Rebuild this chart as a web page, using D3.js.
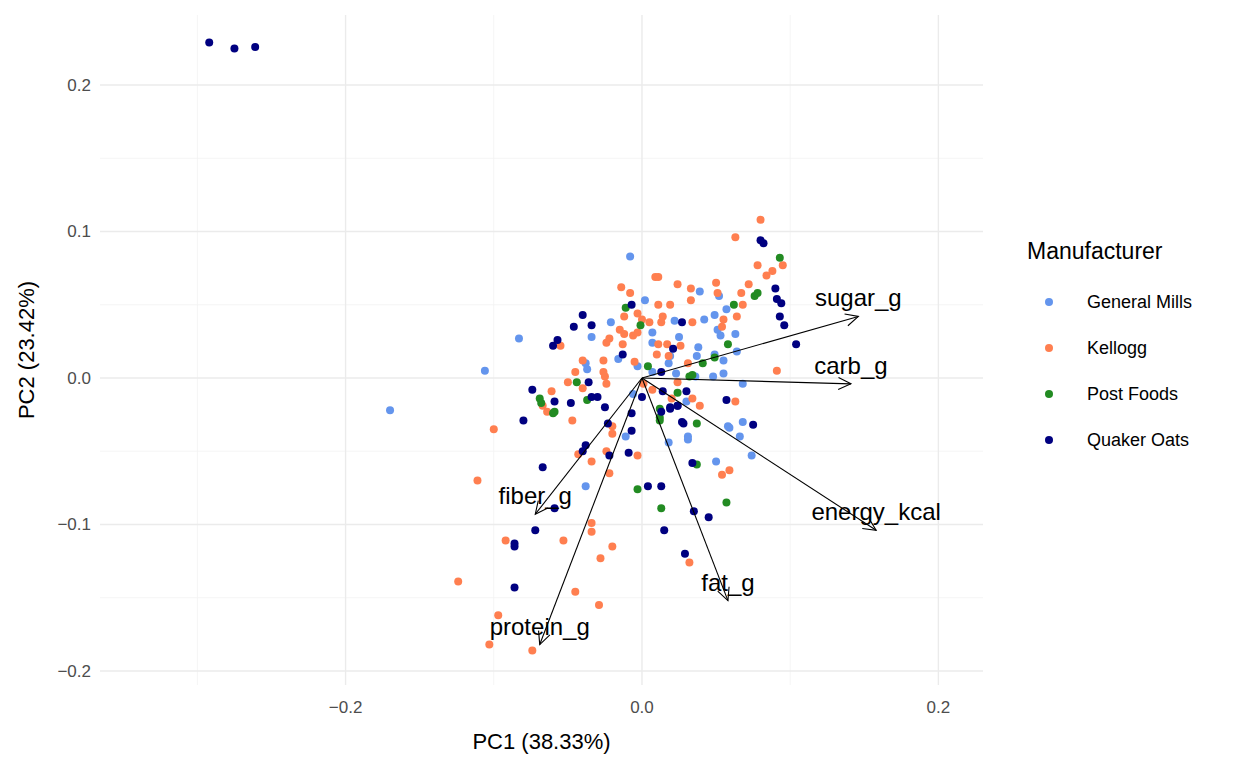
<!DOCTYPE html>
<html><head><meta charset="utf-8">
<script src="https://cdn.jsdelivr.net/npm/d3@7"></script>
<style>body{margin:0;background:#fff}svg{font-family:Arial,"Liberation Sans",sans-serif}</style>
</head><body>
<svg id="chart" width="1248" height="768"></svg>
<script>
// PC scores per manufacturer, [PC1, PC2]
const generalMills = [[-0.170,-0.022],[-0.106,0.005],[-0.083,0.027],[-0.008,0.083],[0.002,0.053],[0.039,0.059],[0.052,0.056],
  [-0.021,0.038],[-0.034,0.028],[0.007,0.031],[0.007,0.024],[0.025,0.028],[0.022,0.039],[0.042,0.040],[0.049,0.043],[0.057,0.047],
  [0.051,0.033],[0.063,0.030],[0.053,0.029],[0.038,0.021],[0.037,0.015],[0.049,0.016],[-0.016,0.013],[-0.038,0.010],[-0.037,0.006],
  [-0.003,0.008],[0.019,0.015],[0.018,0.010],[0.007,0.004],[0.023,0.003],[0.048,0.001],[0.055,0.003],[0.064,0.018],[0.068,-0.004],
  [0.055,0.012],[0.036,0.001],[0.030,-0.016],[-0.006,-0.011],[0.068,-0.030],[0.058,-0.033],[0.066,-0.040],[0.031,-0.040],
  [-0.011,-0.040],[0.018,-0.044],[0.031,-0.042],[0.059,-0.034],[0.074,-0.053],[0.050,-0.057],[-0.038,-0.074]];
const kellogg = [[0.080,0.108],[0.063,0.096],[0.078,0.077],[0.088,0.073],[0.084,0.070],[0.095,0.077],[0.009,0.069],[0.011,0.069],
  [-0.014,0.062],[-0.008,0.058],[0.024,0.064],[0.033,0.061],[0.050,0.065],[0.051,0.058],[0.033,0.053],[0.011,0.050],[0.019,0.050],
  [0.072,0.064],[0.067,0.058],[0.068,0.050],[0.064,0.042],[0.055,0.040],[0.054,0.035],[0.034,0.038],[0.014,0.042],[0.013,0.038],
  [0.005,0.038],[-0.003,0.044],[0.000,0.040],[-0.012,0.042],[-0.015,0.033],[-0.012,0.030],[-0.006,0.029],[-0.003,0.031],
  [-0.022,0.027],[-0.024,0.024],[-0.013,0.023],[0.011,0.023],[0.017,0.023],[0.026,0.022],[0.010,0.016],[0.018,0.015],
  [-0.026,0.012],[-0.040,0.012],[-0.055,0.022],[-0.005,0.011],[0.031,0.010],[0.091,0.005],[-0.045,0.004],[-0.026,0.004],
  [-0.025,0.001],[-0.024,-0.004],[-0.050,-0.003],[-0.040,-0.007],[-0.061,-0.009],[-0.067,-0.019],[-0.064,-0.023],[-0.047,-0.029],
  [-0.100,-0.035],[0.001,-0.004],[0.007,-0.008],[0.024,-0.003],[0.020,-0.014],[0.034,-0.014],[0.039,-0.019],[0.063,-0.016],
  [-0.020,-0.033],[-0.020,-0.038],[-0.024,-0.050],[-0.043,-0.052],[-0.034,-0.057],[-0.003,-0.053],[-0.022,-0.065],[-0.111,-0.070],
  [0.054,-0.066],[0.059,-0.063],[-0.034,-0.099],[-0.034,-0.105],[-0.092,-0.111],[-0.053,-0.111],[-0.020,-0.115],[-0.028,-0.123],
  [0.032,-0.126],[-0.124,-0.139],[-0.045,-0.146],[-0.029,-0.155],[-0.097,-0.162],[-0.103,-0.182],[-0.074,-0.186]];
const postFoods = [[0.093,0.082],[0.076,0.056],[0.078,0.058],[0.062,0.050],[-0.011,0.048],[-0.001,0.036],[0.058,0.023],[0.041,0.010],
  [0.049,0.014],[0.004,0.008],[0.032,0.001],[0.034,0.002],[-0.044,-0.003],[-0.069,-0.014],[-0.068,-0.017],[-0.059,-0.023],
  [-0.037,-0.015],[0.024,-0.010],[0.012,-0.021],[0.012,-0.027],[0.037,-0.031],[-0.060,-0.024],[0.012,-0.029],[0.037,-0.059],
  [-0.003,-0.076],[0.013,-0.089],[0.057,-0.085]];
const quakerOats = [[-0.292,0.229],[-0.275,0.225],[-0.261,0.226],[0.080,0.094],[0.082,0.092],[0.090,0.061],[0.091,0.054],[0.093,0.042],
  [0.096,0.036],[0.104,0.023],[0.094,0.051],[-0.007,0.050],[-0.040,0.043],[-0.046,0.035],[-0.034,0.036],[-0.057,0.026],[-0.060,0.022],
  [0.027,0.038],[-0.013,0.016],[0.021,0.020],[-0.074,-0.008],[-0.036,-0.003],[-0.059,-0.016],[-0.048,-0.017],[-0.034,-0.013],
  [-0.030,-0.013],[-0.025,-0.020],[-0.080,-0.029],[0.013,0.004],[0.014,-0.009],[0.030,-0.009],[0.019,-0.020],[0.024,-0.019],
  [0.027,-0.030],[0.000,-0.013],[0.057,-0.015],[0.075,-0.032],[-0.023,-0.031],[-0.007,-0.024],[-0.007,-0.036],[-0.038,-0.046],
  [-0.040,-0.050],[-0.022,-0.053],[-0.009,-0.051],[-0.067,-0.061],[0.004,-0.074],[0.013,-0.074],[-0.059,-0.089],[-0.072,-0.104],
  [-0.086,-0.113],[-0.086,-0.115],[-0.086,-0.143],[0.015,-0.104],[0.035,-0.091],[0.045,-0.095],[0.029,-0.120],[0.028,-0.031],
  [0.034,-0.058],[0.013,-0.023],[0.019,-0.021],[0.024,-0.019]];

const manufacturers = ["General Mills", "Kellogg", "Post Foods", "Quaker Oats"];
const colors = ["#6495ED", "#FF7F50", "#228B22", "#000080"];
const loadingNames = ["sugar_g", "carb_g", "energy_kcal", "fat_g", "protein_g", "fiber_g"];
const loadingPC1 = [0.146, 0.141, 0.158, 0.058, -0.069, -0.072];
const loadingPC2 = [0.042, -0.004, -0.104, -0.152, -0.182, -0.093];
const xTicks = [-0.2, 0.0, 0.2], xMinor = [-0.3, -0.1, 0.1];
const yTicks = [-0.2, -0.1, 0.0, 0.1, 0.2], yMinor = [-0.15, -0.05, 0.05, 0.15];

const svg = d3.select("#chart");
const pl = 100, pr = 983, pt = 15, pb = 685;
const x = d3.scaleLinear().domain([-0.3657, 0.2301]).range([pl, pr]);
const y = d3.scaleLinear().domain([0.2478, -0.2096]).range([pt, pb]);

const grid = svg.append("g");
grid.selectAll(".xm").data(xMinor).join("line").attr("x1", d => x(d)).attr("x2", d => x(d)).attr("y1", pt).attr("y2", pb).attr("stroke", "#f3f3f3").attr("stroke-width", 0.8);
grid.selectAll(".ym").data(yMinor).join("line").attr("y1", d => y(d)).attr("y2", d => y(d)).attr("x1", pl).attr("x2", pr).attr("stroke", "#f3f3f3").attr("stroke-width", 0.8);
grid.selectAll(".xM").data(xTicks).join("line").attr("x1", d => x(d)).attr("x2", d => x(d)).attr("y1", pt).attr("y2", pb).attr("stroke", "#ebebeb").attr("stroke-width", 1.4);
grid.selectAll(".yM").data(yTicks).join("line").attr("y1", d => y(d)).attr("y2", d => y(d)).attr("x1", pl).attr("x2", pr).attr("stroke", "#ebebeb").attr("stroke-width", 1.4);

const fmt = d3.format(".1f");
svg.append("g").selectAll("text").data(xTicks).join("text")
  .attr("x", d => x(d)).attr("y", 713).attr("text-anchor", "middle").attr("font-size", 17).attr("fill", "#4d4d4d").text(fmt);
svg.append("g").selectAll("text").data(yTicks).join("text")
  .attr("x", 91).attr("y", d => y(d) + 6).attr("text-anchor", "end").attr("font-size", 17).attr("fill", "#4d4d4d").text(fmt);

svg.append("text").attr("x", (pl + pr) / 2).attr("y", 749).attr("text-anchor", "middle").attr("font-size", 22).text("PC1 (38.33%)");
svg.append("text").attr("transform", `translate(34,${(pt + pb) / 2}) rotate(-90)`).attr("text-anchor", "middle").attr("font-size", 22).text("PC2 (23.42%)");

const groups = [generalMills, kellogg, postFoods, quakerOats];
groups.forEach((pts, i) => {
  svg.append("g").selectAll("circle").data(pts).join("circle")
    .attr("cx", d => x(d[0])).attr("cy", d => y(d[1])).attr("r", 4).attr("fill", colors[i]);
});

// loading arrows
const loads = loadingNames.map((n, i) => ({ n, px: loadingPC1[i], py: loadingPC2[i] }));
const ag = svg.append("g").attr("stroke", "#000").attr("stroke-width", 1.1).attr("fill", "none");
loads.forEach(d => {
  const x0 = x(0), y0 = y(0), x1 = x(d.px), y1 = y(d.py);
  ag.append("line").attr("x1", x0).attr("y1", y0).attr("x2", x1).attr("y2", y1);
  const a = Math.atan2(y1 - y0, x1 - x0), L = 14, s = Math.PI / 7;
  ag.append("polyline").attr("points", [
    [x1 - L * Math.cos(a - s), y1 - L * Math.sin(a - s)], [x1, y1], [x1 - L * Math.cos(a + s), y1 - L * Math.sin(a + s)]
  ].map(p => p.join(",")).join(" "));
});
svg.append("g").selectAll("text").data(loads).join("text")
  .attr("x", d => x(d.px)).attr("y", d => y(d.py) - 10).attr("text-anchor", "middle")
  .attr("font-size", 24).attr("fill", "#000").text(d => d.n);

// legend
const lg = svg.append("g");
lg.append("text").attr("x", 1027).attr("y", 259).attr("font-size", 23).text("Manufacturer");
manufacturers.forEach((m, i) => {
  lg.append("circle").attr("cx", 1049).attr("cy", 302 + i * 46).attr("r", 4).attr("fill", colors[i]);
  lg.append("text").attr("x", 1087).attr("y", 308 + i * 46).attr("font-size", 18).text(m);
});
</script>
</body></html>
